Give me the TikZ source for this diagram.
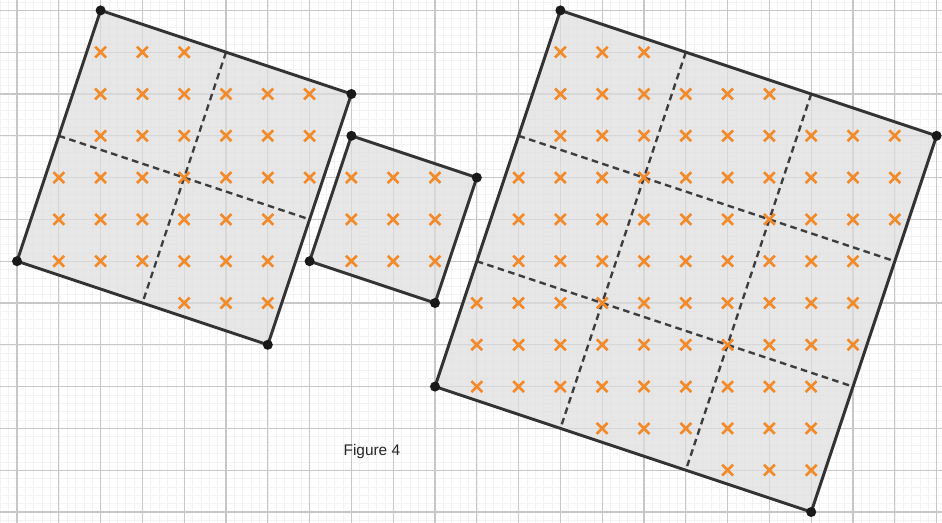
\documentclass[tikz,border=0pt]{standalone}
\usepackage{fontspec}
\setmainfont{Liberation Sans}
\definecolor{xorange}{HTML}{F28A2A}
\definecolor{edgegray}{HTML}{333333}
\begin{document}
\begin{tikzpicture}[x=1cm,y=1cm,
  edge/.style={draw=edgegray, line width=2pt, line join=round},
  region/.style={fill=black!13, fill opacity=0.7},
  divider/.style={draw=edgegray!95, line width=1.6pt, dash pattern=on 4.5pt off 3pt},
  vertexdot/.style={fill=black!90},
  xmark/.style={draw=xorange, line width=1.8pt},
  xm/.pic={\draw[xmark] (-0.13,-0.13)--(0.13,0.13) (-0.13,0.13)--(0.13,-0.13);}
]
\useasboundingbox (-0.407,-0.263) rectangle (22.129,12.249);
\fill[white] (-0.407,-0.263) rectangle (22.129,12.249);
\draw[black!5, line width=0.4pt, step=0.2] (-0.407,-0.263) grid (22.129,12.249);
\draw[black!22, line width=0.9pt, step=1] (-0.407,-0.263) grid (22.129,12.249);

% vertices
\coordinate (A1) at (2,12);  \coordinate (A2) at (8,10);
\coordinate (A3) at (6,4);   \coordinate (A4) at (0,6);
\coordinate (B1) at (8,9);   \coordinate (B2) at (11,8);
\coordinate (B3) at (10,5);  \coordinate (B4) at (7,6);
\coordinate (C1) at (13,12); \coordinate (C2) at (22,9);
\coordinate (C3) at (19,0);  \coordinate (C4) at (10,3);

% fills
\path[region] (A1)--(A2)--(A3)--(A4)--cycle;
\path[region] (B1)--(B2)--(B3)--(B4)--cycle;
\path[region] (C1)--(C2)--(C3)--(C4)--cycle;

% dividing lines
\coordinate (a1) at (5,11); \coordinate (a2) at (3,5);
\coordinate (a3) at (1,9);  \coordinate (a4) at (7,7);
\draw[divider] (a1)--(a2);
\draw[divider] (a3)--(a4);
\coordinate (c1) at (16,11); \coordinate (c2) at (13,2);
\coordinate (c3) at (19,10); \coordinate (c4) at (16,1);
\coordinate (c5) at (12,9);  \coordinate (c6) at (21,6);
\coordinate (c7) at (11,6);  \coordinate (c8) at (20,3);
\draw[divider] (c1)--(c2);
\draw[divider] (c3)--(c4);
\draw[divider] (c5)--(c6);
\draw[divider] (c7)--(c8);

% lattice marks
\foreach \y/\a/\b in {11/2/4,10/2/7,9/2/7,8/1/7,7/1/6,6/1/6,5/4/6}
  \foreach \x in {\a,...,\b} \pic at (\x,\y) {xm};
\foreach \y in {6,7,8}
  \foreach \x in {8,9,10} \pic at (\x,\y) {xm};
\foreach \y/\a/\b in {11/13/15,10/13/18,9/13/21,8/12/21,7/12/21,6/12/20,5/11/20,4/11/20,3/11/19,2/14/19,1/17/19}
  \foreach \x in {\a,...,\b} \pic at (\x,\y) {xm};

% edges
\draw[edge] (A1)--(A2)--(A3)--(A4)--cycle;
\draw[edge] (B1)--(B2)--(B3)--(B4)--cycle;
\draw[edge] (C1)--(C2)--(C3)--(C4)--cycle;

% vertex dots
\foreach \v in {A1,A2,A3,A4,B1,B2,B3,B4,C1,C2,C3,C4}
  \fill[vertexdot] (\v) circle (0.12);

\node[font=\fontsize{10.5}{12}\selectfont, text=black!85] (cap) at (8.49,1.44) {Figure 4};
\end{tikzpicture}
\end{document}
